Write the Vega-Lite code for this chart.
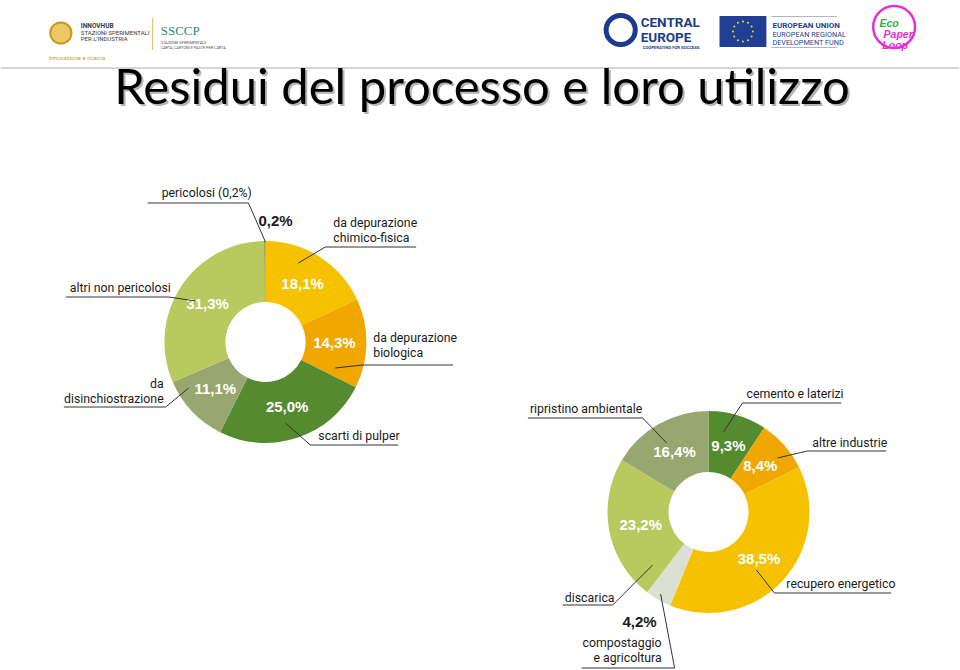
{
  "$schema": "https://vega.github.io/schema/vega-lite/v6.json",
  "width": 960,
  "height": 670,
  "autosize": {"type": "fit", "contains": "padding"},
  "padding": 0,
  "background": "white",
  "config": {"view": {"stroke": null}},
  "datasets": {
    "slices": [
      {"donut": "A", "cx": 265, "cy": 342, "name": "da depurazione chimico-fisica", "value": 18.1, "order": 1, "pct": "18,1%"},
      {"donut": "A", "cx": 265, "cy": 342, "name": "da depurazione biologica", "value": 14.3, "order": 2, "pct": "14,3%"},
      {"donut": "A", "cx": 265, "cy": 342, "name": "scarti di pulper", "value": 25.0, "order": 3, "pct": "25,0%"},
      {"donut": "A", "cx": 265, "cy": 342, "name": "da disinchiostrazione", "value": 11.1, "order": 4, "pct": "11,1%"},
      {"donut": "A", "cx": 265, "cy": 342, "name": "altri non pericolosi", "value": 31.3, "order": 5, "pct": "31,3%"},
      {"donut": "A", "cx": 265, "cy": 342, "name": "pericolosi", "value": 0.2, "order": 6, "pct": "0,2%"},
      {"donut": "B", "cx": 709, "cy": 512, "name": "cemento e laterizi", "value": 9.3, "order": 1, "pct": "9,3%"},
      {"donut": "B", "cx": 709, "cy": 512, "name": "altre industrie", "value": 8.4, "order": 2, "pct": "8,4%"},
      {"donut": "B", "cx": 709, "cy": 512, "name": "recupero energetico", "value": 38.5, "order": 3, "pct": "38,5%"},
      {"donut": "B", "cx": 709, "cy": 512, "name": "compostaggio e agricoltura", "value": 4.2, "order": 4, "pct": "4,2%"},
      {"donut": "B", "cx": 709, "cy": 512, "name": "discarica", "value": 23.2, "order": 5, "pct": "23,2%"},
      {"donut": "B", "cx": 709, "cy": 512, "name": "ripristino ambientale", "value": 16.4, "order": 6, "pct": "16,4%"}
    ],
    "leaders": [
      {"id": 1, "seq": 1, "x": 147, "y": 203}, {"id": 1, "seq": 2, "x": 248, "y": 203}, {"id": 1, "seq": 3, "x": 265, "y": 242},
      {"id": 2, "seq": 1, "x": 298, "y": 263}, {"id": 2, "seq": 2, "x": 325, "y": 247}, {"id": 2, "seq": 3, "x": 416, "y": 247},
      {"id": 3, "seq": 1, "x": 335, "y": 368}, {"id": 3, "seq": 2, "x": 362, "y": 365}, {"id": 3, "seq": 3, "x": 453, "y": 365},
      {"id": 4, "seq": 1, "x": 285, "y": 423}, {"id": 4, "seq": 2, "x": 310, "y": 445}, {"id": 4, "seq": 3, "x": 398, "y": 445},
      {"id": 5, "seq": 1, "x": 188, "y": 388}, {"id": 5, "seq": 2, "x": 165, "y": 407}, {"id": 5, "seq": 3, "x": 63, "y": 407},
      {"id": 6, "seq": 1, "x": 195, "y": 301}, {"id": 6, "seq": 2, "x": 168, "y": 297}, {"id": 6, "seq": 3, "x": 65, "y": 297},
      {"id": 7, "seq": 1, "x": 724, "y": 432}, {"id": 7, "seq": 2, "x": 743, "y": 403}, {"id": 7, "seq": 3, "x": 842, "y": 403},
      {"id": 8, "seq": 1, "x": 778, "y": 458}, {"id": 8, "seq": 2, "x": 808, "y": 451}, {"id": 8, "seq": 3, "x": 887, "y": 451},
      {"id": 9, "seq": 1, "x": 757, "y": 570}, {"id": 9, "seq": 2, "x": 775, "y": 593}, {"id": 9, "seq": 3, "x": 892, "y": 593},
      {"id": 10, "seq": 1, "x": 661, "y": 594}, {"id": 10, "seq": 2, "x": 675, "y": 668}, {"id": 10, "seq": 3, "x": 582, "y": 668},
      {"id": 11, "seq": 1, "x": 653, "y": 565}, {"id": 11, "seq": 2, "x": 613, "y": 605}, {"id": 11, "seq": 3, "x": 563, "y": 605},
      {"id": 12, "seq": 1, "x": 667, "y": 443}, {"id": 12, "seq": 2, "x": 643, "y": 418}, {"id": 12, "seq": 3, "x": 528, "y": 418}
    ],
    "labels": [
      {"k": "left", "text": "pericolosi (0,2%)", "x": 161, "y": 197},
      {"k": "left", "text": "da depurazione", "x": 333, "y": 227},
      {"k": "left", "text": "chimico-fisica", "x": 333, "y": 242},
      {"k": "left", "text": "da depurazione", "x": 373, "y": 342},
      {"k": "left", "text": "biologica", "x": 373, "y": 357},
      {"k": "left", "text": "scarti di pulper", "x": 318, "y": 440},
      {"k": "left", "text": "altri non pericolosi", "x": 69, "y": 292},
      {"k": "left", "text": "cemento e laterizi", "x": 747, "y": 398},
      {"k": "left", "text": "altre industrie", "x": 813, "y": 447},
      {"k": "left", "text": "recupero energetico", "x": 787, "y": 588},
      {"k": "left", "text": "discarica", "x": 565, "y": 602},
      {"k": "left", "text": "ripristino ambientale", "x": 530, "y": 413},
      {"k": "right", "text": "da", "x": 163, "y": 388},
      {"k": "right", "text": "disinchiostrazione", "x": 163, "y": 403},
      {"k": "right", "text": "compostaggio", "x": 662, "y": 647},
      {"k": "right", "text": "e agricoltura", "x": 662, "y": 662},
      {"k": "boldleft", "text": "0,2%", "x": 258, "y": 226},
      {"k": "boldright", "text": "4,2%", "x": 657, "y": 627}
    ],
    "header": [
      {"k": "title", "text": "Residui del processo e loro utilizzo", "x": 482, "y": 104},
      {"k": "innovbold", "text": "INNOVHUB", "x": 80, "y": 28},
      {"k": "innovsmall", "text": "STAZIONI SPERIMENTALI", "x": 80, "y": 34.5},
      {"k": "innovsmall", "text": "PER L'INDUSTRIA", "x": 80, "y": 40.5},
      {"k": "gold", "text": "Innovazione e ricerca", "x": 48, "y": 60},
      {"k": "ssccp", "text": "SSCCP", "x": 160, "y": 35},
      {"k": "tiny", "text": "STAZIONE SPERIMENTALE", "x": 160, "y": 44},
      {"k": "tiny", "text": "CARTA, CARTONI E PASTE PER CARTA", "x": 160, "y": 48.5},
      {"k": "central", "text": "CENTRAL", "x": 641, "y": 27},
      {"k": "central", "text": "EUROPE", "x": 641, "y": 41.5},
      {"k": "coop", "text": "COOPERATING FOR SUCCESS.", "x": 643, "y": 48.5},
      {"k": "eubold", "text": "EUROPEAN UNION", "x": 773, "y": 27.5},
      {"k": "eusmall", "text": "EUROPEAN REGIONAL", "x": 773, "y": 36.5},
      {"k": "eusmall", "text": "DEVELOPMENT FUND", "x": 773, "y": 44.5},
      {"k": "ecogreen", "text": "Eco", "x": 890, "y": 27},
      {"k": "ecopink", "text": "Paper", "x": 899, "y": 38},
      {"k": "ecopink", "text": "Loop", "x": 896, "y": 49}
    ],
    "rules": [
      {"k": "sep", "x": 0, "x2": 960, "y": 68, "y2": 68},
      {"k": "goldline", "x": 152, "x2": 152, "y": 18, "y2": 50},
      {"k": "euline", "x": 772, "x2": 838, "y": 16.5, "y2": 16.5},
      {"k": "euline", "x": 772, "x2": 838, "y": 47.5, "y2": 47.5}
    ],
    "rects": [
      {"k": "euflag", "x": 720, "x2": 767, "y": 16, "y2": 47}
    ],
    "dots": [
      {"k": "star", "x": 743.5, "y": 21.5}, {"k": "star", "x": 748.5, "y": 22.8}, {"k": "star", "x": 752.2, "y": 26.5},
      {"k": "star", "x": 753.5, "y": 31.5}, {"k": "star", "x": 752.2, "y": 36.5}, {"k": "star", "x": 748.5, "y": 40.2},
      {"k": "star", "x": 743.5, "y": 41.5}, {"k": "star", "x": 738.5, "y": 40.2}, {"k": "star", "x": 734.8, "y": 36.5},
      {"k": "star", "x": 733.5, "y": 31.5}, {"k": "star", "x": 734.8, "y": 26.5}, {"k": "star", "x": 738.5, "y": 22.8},
      {"k": "innov", "x": 60, "y": 33},
      {"k": "centralring", "x": 621, "y": 30},
      {"k": "ecoring", "x": 895, "y": 27}
    ]
  },
  "encoding": {
    "x": {"field": "x", "type": "quantitative", "scale": {"domain": [0, 960], "nice": false, "zero": false}, "axis": null},
    "y": {"field": "y", "type": "quantitative", "scale": {"domain": [0, 670], "nice": false, "zero": false, "reverse": true}, "axis": null}
  },
  "layer": [
    {
      "data": {"name": "rules"},
      "transform": [{"filter": "datum.k === 'sep'"}],
      "mark": {"type": "rule", "color": "#c8c8c8", "strokeWidth": 1.5},
      "encoding": {"x2": {"field": "x2"}, "y2": {"field": "y2"}}
    },
    {
      "data": {"name": "rules"},
      "transform": [{"filter": "datum.k === 'goldline'"}],
      "mark": {"type": "rule", "color": "#d9b95a", "strokeWidth": 1},
      "encoding": {"x2": {"field": "x2"}, "y2": {"field": "y2"}}
    },
    {
      "data": {"name": "rules"},
      "transform": [{"filter": "datum.k === 'euline'"}],
      "mark": {"type": "rule", "color": "#9aa3b8", "strokeWidth": 0.8},
      "encoding": {"x2": {"field": "x2"}, "y2": {"field": "y2"}}
    },
    {
      "data": {"name": "rects"},
      "mark": {"type": "rect", "color": "#1f3f95"},
      "encoding": {"x2": {"field": "x2"}, "y2": {"field": "y2"}}
    },
    {
      "data": {"name": "dots"},
      "transform": [{"filter": "datum.k === 'star'"}],
      "mark": {"type": "point", "filled": true, "color": "#ffdd00", "size": 4, "opacity": 1}
    },
    {
      "data": {"name": "dots"},
      "transform": [{"filter": "datum.k === 'innov'"}],
      "mark": {"type": "point", "filled": true, "fill": "#ecc863", "stroke": "#c69a24", "strokeWidth": 2, "size": 450, "opacity": 1}
    },
    {
      "data": {"name": "dots"},
      "transform": [{"filter": "datum.k === 'centralring'"}],
      "mark": {"type": "point", "filled": false, "stroke": "#1b3c8c", "strokeWidth": 5, "size": 850, "opacity": 1}
    },
    {
      "data": {"name": "dots"},
      "transform": [{"filter": "datum.k === 'ecoring'"}],
      "mark": {"type": "point", "filled": false, "stroke": "#e62fd2", "strokeWidth": 2.5, "size": 1750, "opacity": 1}
    },
    {
      "data": {"name": "header"},
      "transform": [{"filter": "datum.k === 'title'"}],
      "mark": {"type": "text", "font": "Lato", "fontSize": 49, "color": "#b4b4b4", "align": "center", "baseline": "alphabetic", "dx": 2, "dy": 2},
      "encoding": {"text": {"field": "text"}}
    },
    {
      "data": {"name": "header"},
      "transform": [{"filter": "datum.k === 'title'"}],
      "mark": {"type": "text", "font": "Lato", "fontSize": 49, "color": "#000000", "align": "center", "baseline": "alphabetic"},
      "encoding": {"text": {"field": "text"}}
    },
    {
      "data": {"name": "header"},
      "transform": [{"filter": "datum.k === 'innovbold'"}],
      "mark": {"type": "text", "font": "Roboto", "fontSize": 6.5, "fontWeight": "bold", "color": "#3a3a3a", "align": "left", "baseline": "alphabetic"},
      "encoding": {"text": {"field": "text"}}
    },
    {
      "data": {"name": "header"},
      "transform": [{"filter": "datum.k === 'innovsmall'"}],
      "mark": {"type": "text", "font": "Roboto", "fontSize": 6, "color": "#3a3a3a", "align": "left", "baseline": "alphabetic"},
      "encoding": {"text": {"field": "text"}}
    },
    {
      "data": {"name": "header"},
      "transform": [{"filter": "datum.k === 'gold'"}],
      "mark": {"type": "text", "font": "Roboto", "fontSize": 6, "color": "#c9a227", "align": "left", "baseline": "alphabetic"},
      "encoding": {"text": {"field": "text"}}
    },
    {
      "data": {"name": "header"},
      "transform": [{"filter": "datum.k === 'ssccp'"}],
      "mark": {"type": "text", "font": "Liberation Serif", "fontSize": 13, "color": "#2e8b77", "align": "left", "baseline": "alphabetic"},
      "encoding": {"text": {"field": "text"}}
    },
    {
      "data": {"name": "header"},
      "transform": [{"filter": "datum.k === 'tiny'"}],
      "mark": {"type": "text", "font": "Roboto", "fontSize": 3.8, "color": "#555555", "align": "left", "baseline": "alphabetic"},
      "encoding": {"text": {"field": "text"}}
    },
    {
      "data": {"name": "header"},
      "transform": [{"filter": "datum.k === 'central'"}],
      "mark": {"type": "text", "font": "Roboto", "fontSize": 13.5, "fontWeight": "bold", "color": "#1b3c8c", "align": "left", "baseline": "alphabetic"},
      "encoding": {"text": {"field": "text"}}
    },
    {
      "data": {"name": "header"},
      "transform": [{"filter": "datum.k === 'coop'"}],
      "mark": {"type": "text", "font": "Roboto", "fontSize": 4.2, "fontWeight": "bold", "color": "#1b3c8c", "align": "left", "baseline": "alphabetic"},
      "encoding": {"text": {"field": "text"}}
    },
    {
      "data": {"name": "header"},
      "transform": [{"filter": "datum.k === 'eubold'"}],
      "mark": {"type": "text", "font": "Roboto", "fontSize": 8, "fontWeight": "bold", "color": "#1f3f95", "align": "left", "baseline": "alphabetic"},
      "encoding": {"text": {"field": "text"}}
    },
    {
      "data": {"name": "header"},
      "transform": [{"filter": "datum.k === 'eusmall'"}],
      "mark": {"type": "text", "font": "Roboto", "fontSize": 7.3, "color": "#1f3f95", "align": "left", "baseline": "alphabetic"},
      "encoding": {"text": {"field": "text"}}
    },
    {
      "data": {"name": "header"},
      "transform": [{"filter": "datum.k === 'ecogreen'"}],
      "mark": {"type": "text", "font": "Liberation Sans", "fontSize": 10.5, "fontWeight": "bold", "fontStyle": "italic", "color": "#2bb24c", "align": "center", "baseline": "alphabetic"},
      "encoding": {"text": {"field": "text"}}
    },
    {
      "data": {"name": "header"},
      "transform": [{"filter": "datum.k === 'ecopink'"}],
      "mark": {"type": "text", "font": "Liberation Sans", "fontSize": 10.5, "fontWeight": "bold", "fontStyle": "italic", "color": "#e62fd2", "align": "center", "baseline": "alphabetic"},
      "encoding": {"text": {"field": "text"}}
    },
    {
      "data": {"name": "slices"},
      "transform": [{"filter": "datum.donut === 'A'"}],
      "mark": {"type": "arc", "innerRadius": 40, "outerRadius": 101},
      "encoding": {
        "x": {"field": "cx", "type": "quantitative"},
        "y": {"field": "cy", "type": "quantitative"},
        "theta": {"field": "value", "type": "quantitative", "stack": true, "scale": {"domain": [0, 100]}},
        "order": {"field": "order", "type": "quantitative"},
        "color": {
          "field": "name", "type": "nominal", "legend": null,
          "scale": {
            "domain": ["da depurazione chimico-fisica", "da depurazione biologica", "scarti di pulper", "da disinchiostrazione", "altri non pericolosi", "pericolosi", "cemento e laterizi", "altre industrie", "recupero energetico", "compostaggio e agricoltura", "discarica", "ripristino ambientale"],
            "range": ["#f6c200", "#f0a700", "#558b2f", "#98a670", "#b8ca5e", "#7b8a4a", "#558b2f", "#f0a700", "#f6c200", "#dce0d2", "#b8ca5e", "#98a670"]
          }
        }
      }
    },
    {
      "data": {"name": "slices"},
      "transform": [{"filter": "datum.donut === 'B'"}],
      "mark": {"type": "arc", "innerRadius": 40, "outerRadius": 101},
      "encoding": {
        "x": {"field": "cx", "type": "quantitative"},
        "y": {"field": "cy", "type": "quantitative"},
        "theta": {"field": "value", "type": "quantitative", "stack": true, "scale": {"domain": [0, 100]}},
        "order": {"field": "order", "type": "quantitative"},
        "color": {"field": "name", "type": "nominal", "legend": null}
      }
    },
    {
      "data": {"name": "slices"},
      "transform": [{"filter": "datum.donut === 'A'"}],
      "mark": {"type": "text", "radius": 69, "font": "Liberation Sans", "fontSize": 15, "fontWeight": "bold", "color": "white", "align": "center", "baseline": "middle"},
      "encoding": {
        "x": {"field": "cx", "type": "quantitative"},
        "y": {"field": "cy", "type": "quantitative"},
        "theta": {"field": "value", "type": "quantitative", "stack": true},
        "order": {"field": "order", "type": "quantitative"},
        "detail": {"field": "name"},
        "text": {"condition": {"test": "datum.value < 5", "value": ""}, "field": "pct"}
      }
    },
    {
      "data": {"name": "slices"},
      "transform": [{"filter": "datum.donut === 'B'"}],
      "mark": {"type": "text", "radius": 69, "font": "Liberation Sans", "fontSize": 15, "fontWeight": "bold", "color": "white", "align": "center", "baseline": "middle"},
      "encoding": {
        "x": {"field": "cx", "type": "quantitative"},
        "y": {"field": "cy", "type": "quantitative"},
        "theta": {"field": "value", "type": "quantitative", "stack": true},
        "order": {"field": "order", "type": "quantitative"},
        "detail": {"field": "name"},
        "text": {"condition": {"test": "datum.value < 5", "value": ""}, "field": "pct"}
      }
    },
    {
      "data": {"name": "leaders"},
      "mark": {"type": "line", "color": "#333333", "strokeWidth": 1},
      "encoding": {
        "detail": {"field": "id", "type": "nominal"},
        "order": {"field": "seq", "type": "quantitative"}
      }
    },
    {
      "data": {"name": "labels"},
      "transform": [{"filter": "datum.k === 'left'"}],
      "mark": {"type": "text", "font": "Roboto", "fontSize": 12.3, "color": "#1a1a1a", "align": "left", "baseline": "alphabetic"},
      "encoding": {"text": {"field": "text"}}
    },
    {
      "data": {"name": "labels"},
      "transform": [{"filter": "datum.k === 'right'"}],
      "mark": {"type": "text", "font": "Roboto", "fontSize": 12.3, "color": "#1a1a1a", "align": "right", "baseline": "alphabetic"},
      "encoding": {"text": {"field": "text"}}
    },
    {
      "data": {"name": "labels"},
      "transform": [{"filter": "datum.k === 'boldleft'"}],
      "mark": {"type": "text", "font": "Liberation Sans", "fontSize": 15, "fontWeight": "bold", "color": "#1a1a1a", "align": "left", "baseline": "alphabetic"},
      "encoding": {"text": {"field": "text"}}
    },
    {
      "data": {"name": "labels"},
      "transform": [{"filter": "datum.k === 'boldright'"}],
      "mark": {"type": "text", "font": "Liberation Sans", "fontSize": 15, "fontWeight": "bold", "color": "#1a1a1a", "align": "right", "baseline": "alphabetic"},
      "encoding": {"text": {"field": "text"}}
    }
  ]
}
